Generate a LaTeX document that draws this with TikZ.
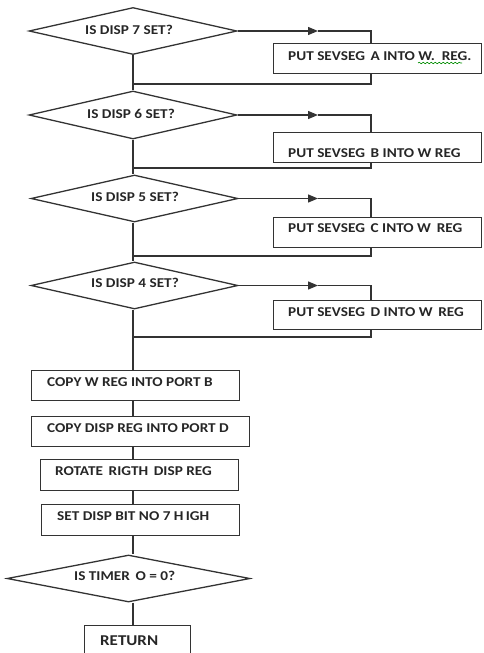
\documentclass[tikz,border=0pt]{standalone}
\usepackage{fontspec}
\setmainfont{Carlito}[FakeStretch=1.13]
\usetikzlibrary{shapes.geometric,arrows.meta,decorations.pathmorphing}
\tikzset{
  ln/.style={draw=black!80, line width=1.3pt},
  dia/.style={diamond, ln, inner sep=0pt, aspect=4},
  stepbox/.style={rectangle, ln, inner sep=0pt, anchor=north west},
  lbl/.style={anchor=base west, inner sep=0pt, font=\fontsize{13.5}{15}\selectfont\bfseries, text=black!85},
  arr/.style={ln, -{Triangle[length=10pt,width=8pt]}},
}
\begin{document}
\begin{tikzpicture}[x=1pt,y=-1pt]
\useasboundingbox (0,0) rectangle (483,653);
\clip (0,0) rectangle (483,653);
% decisions
\node[dia, minimum width=208, minimum height=47] (d1) at (133,31) {};
\node[dia, minimum width=208, minimum height=48] (d2) at (133,115) {};
\node[dia, minimum width=207, minimum height=47] (d3) at (134.5,198.5) {};
\node[dia, minimum width=207, minimum height=47] (d4) at (134.5,285.5) {};
\node[dia, minimum width=243, minimum height=47] (d5) at (128.5,578.5) {};
% side boxes
\node[stepbox, minimum width=208, minimum height=30] (ba) at (273,43) {};
\node[stepbox, minimum width=208, minimum height=30] (bb) at (273,132) {};
\node[stepbox, minimum width=208, minimum height=30] (bc) at (273,217) {};
\node[stepbox, minimum width=208, minimum height=29] (bd) at (273,300) {};
% main boxes
\node[stepbox, minimum width=208, minimum height=30] (b5) at (31,370) {};
\node[stepbox, minimum width=218, minimum height=30] (b6) at (31,416) {};
\node[stepbox, minimum width=198, minimum height=31] (b7) at (40,459) {};
\node[stepbox, minimum width=198, minimum height=31] (b8) at (41,504) {};
\node[stepbox, minimum width=106, minimum height=50] (ret) at (84,625) {};
% labels
\node[lbl] (t1) at (85,34.5) {IS DISP 7 SET?};
\node[lbl] (t2) at (87,118.5) {IS DISP 6 SET?};
\node[lbl] (t3) at (91,201.5) {IS DISP 5 SET?};
\node[lbl] (t4) at (91,287.5) {IS DISP 4 SET?};
\node[lbl] (t5) at (74,580.5) {IS TIMER\ \,O = 0?};
\node[lbl] (ta) at (288,60.5) {PUT SEVSEG\ \,A INTO W.\ \ REG.};
\node[lbl] (tb) at (288,157.5) {PUT SEVSEG\ \,B INTO W REG};
\node[lbl] (tc) at (288,232.5) {PUT SEVSEG\ \,C INTO W\ \,REG};
\node[lbl] (td) at (288,316.5) {PUT SEVSEG\ \,D INTO W\ \,REG};
\node[lbl] (t6) at (47,386.5) {COPY W REG INTO PORT B};
\node[lbl] (t7) at (47,432.5) {COPY DISP REG INTO PORT D};
\node[lbl] (t8) at (55,475.5) {ROTATE\ \,RIGTH\ \,DISP REG};
\node[lbl] (t9) at (57,520.5) {SET DISP BIT NO 7 H\,IGH};
\node[lbl, font=\fontsize{15}{17}\selectfont\bfseries] (tr) at (100,645) {RETURN};
% spell-check squiggle
\draw[green!55!black, line width=0.6pt, decorate, decoration={snake, amplitude=0.8pt, segment length=4pt}] (418,63) -- (462,63);
% coordinates
\coordinate (sp) at (133,0);
\coordinate (kx) at (371,0);
\coordinate (m1) at (318,31);
\coordinate (m2) at (318,115);
\coordinate (m3) at (318,198.5);
\coordinate (m4) at (318,285.5);
\coordinate (r1) at (133,84);
\coordinate (r2) at (133,168);
\coordinate (r3) at (133,256);
\coordinate (r4) at (133,337);
% branch 1
\draw[arr] (d1.east) -- (m1);
\draw[ln] (m1) -- (m1 -| kx) -- (ba.north -| kx);
\draw[ln] (ba.south -| kx) -- (r1 -| kx) -- (r1);
% branch 2
\draw[arr] (d2.east) -- (m2);
\draw[ln] (m2) -- (m2 -| kx) -- (bb.north -| kx);
\draw[ln] (bb.south -| kx) -- (r2 -| kx) -- (r2);
% branch 3
\draw[arr] (d3.east) -- (m3);
\draw[ln] (m3) -- (m3 -| kx) -- (bc.north -| kx);
\draw[ln] (bc.south -| kx) -- (r3 -| kx) -- (r3);
% branch 4
\draw[arr] (d4.east) -- (m4);
\draw[ln] (m4) -- (m4 -| kx) -- (bd.north -| kx);
\draw[ln] (bd.south -| kx) -- (r4 -| kx) -- (r4);
% spine
\draw[ln] (d1.south) -- (d2.north);
\draw[ln] (d2.south) -- (d2.south |- d3.north);
\draw[ln] (d3.south -| sp) -- (d4.north -| sp);
\draw[ln] (d4.south -| sp) -- (b5.north -| sp);
\draw[ln] (b5.south -| sp) -- (b6.north -| sp);
\draw[ln] (b6.south -| sp) -- (b7.north -| sp);
\draw[ln] (b7.south -| sp) -- (b8.north -| sp);
\draw[ln] (b8.south -| sp) -- (d5.north -| sp);
\draw[ln] (d5.south -| sp) -- (ret.north -| sp);
\end{tikzpicture}
\end{document}
